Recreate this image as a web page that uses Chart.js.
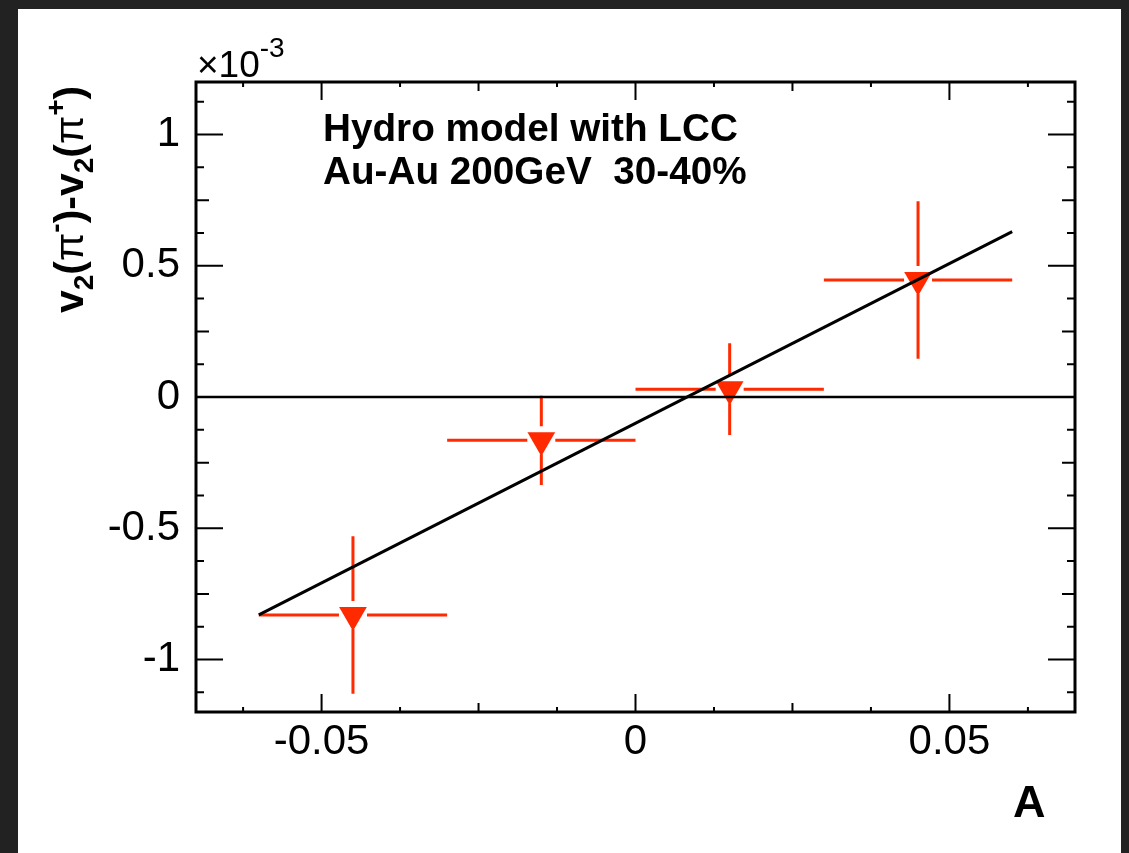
<!DOCTYPE html>
<html>
<head>
<meta charset="utf-8">
<script src="https://cdn.jsdelivr.net/npm/chart.js@4"></script>
<style>
  html, body { margin: 0; padding: 0; background: #222; width: 1129px; height: 853px; overflow: hidden; }
  #sheet { position: absolute; left: 18px; top: 9px; width: 1103px; height: 844px; background: #fff; }
  canvas { display: block; }
</style>
</head>
<body>
<div id="sheet"><canvas id="chart" width="1103" height="844"></canvas></div>
<script>
// ── Data (v2 difference in units of 1e-3) ──
const xTicks = [-0.05, 0, 0.05];
const yTicks = [-1, -0.5, 0, 0.5, 1];
const ptA    = [-0.045, -0.015, 0.015, 0.045];
const ptV    = [-0.83, -0.165, 0.03, 0.446];
const ptAErr = [0.015, 0.015, 0.015, 0.015];
const ptVErr = [0.30, 0.17, 0.175, 0.30];
const fitA   = [-0.06, 0.06];
const fitV   = [-0.83, 0.63];
const zeroA  = [-0.07, 0.07];
const zeroV  = [0, 0];

const RED = '#ff2a00';
const FONT = '"Liberation Sans", Arial, Helvetica, sans-serif';

// ── Inner tick marks + frame (ROOT style) ──
function innerTicks(ctx, scale, step, lenFn, horizontal, area) {
  const i0 = Math.ceil(scale.min / step - 1e-6), i1 = Math.floor(scale.max / step + 1e-6);
  for (let i = i0; i <= i1; i++) {
    const v = i * step;
    const p = scale.getPixelForValue(v);
    const len = lenFn(i);
    ctx.beginPath();
    if (horizontal) {
      ctx.moveTo(p, area.bottom); ctx.lineTo(p, area.bottom - len);
      ctx.moveTo(p, area.top); ctx.lineTo(p, area.top + len);
    } else {
      ctx.moveTo(area.left, p); ctx.lineTo(area.left + len, p);
      ctx.moveTo(area.right, p); ctx.lineTo(area.right - len, p);
    }
    ctx.stroke();
  }
}

const framePlugin = {
  id: 'frame',
  afterDraw(chart) {
    const { ctx, chartArea: a, scales } = chart;
    ctx.save();
    ctx.strokeStyle = '#000';
    ctx.lineWidth = 2;
    innerTicks(ctx, scales.x, 0.0125, i => i % 4 === 0 ? 18 : (i % 2 === 0 ? 9 : 5), true, a);
    innerTicks(ctx, scales.y, 0.125, i => i % 4 === 0 ? 27 : (i % 2 === 0 ? 13 : 8), false, a);
    ctx.lineWidth = 3;
    ctx.strokeRect(a.left, a.top, a.right - a.left, a.bottom - a.top);
    ctx.restore();
  }
};

// ── Error bars with a gap around the marker ──
const errorBarPlugin = {
  id: 'errbars',
  beforeDatasetsDraw(chart) {
    const { ctx, scales: { x, y } } = chart;
    const gap = 14;
    ctx.save();
    ctx.strokeStyle = RED;
    ctx.lineWidth = 3;
    ptA.forEach((a, i) => {
      const px = x.getPixelForValue(a), py = y.getPixelForValue(ptV[i]);
      const xl = x.getPixelForValue(a - ptAErr[i]), xr = x.getPixelForValue(a + ptAErr[i]);
      const yt = y.getPixelForValue(ptV[i] + ptVErr[i]), yb = y.getPixelForValue(ptV[i] - ptVErr[i]);
      ctx.beginPath();
      ctx.moveTo(xl, py); ctx.lineTo(px - gap, py);
      ctx.moveTo(px + gap, py); ctx.lineTo(xr, py);
      ctx.moveTo(px, yt); ctx.lineTo(px, py - gap);
      ctx.moveTo(px, py + gap); ctx.lineTo(px, yb);
      ctx.stroke();
    });
    ctx.restore();
  }
};

// ── Texts: axis titles, exponent, labels ──
function drawRuns(ctx, runs) {
  let u = 0;
  runs.forEach(r => {
    ctx.font = r.font;
    ctx.fillText(r.t, u, r.dy || 0);
    u += ctx.measureText(r.t).width;
  });
}

const textPlugin = {
  id: 'texts',
  afterDraw(chart) {
    const { ctx } = chart;
    ctx.save();
    ctx.fillStyle = '#000';
    ctx.textBaseline = 'alphabetic';
    ctx.textAlign = 'left';

    // exponent above the y axis
    ctx.font = '37px ' + FONT;
    ctx.fillText('\u00d710', 179, 68);
    const w = ctx.measureText('\u00d710').width;
    ctx.font = '28px ' + FONT;
    ctx.fillText('-3', 179 + w, 48);

    // caption
    ctx.font = 'bold 38.7px ' + FONT;
    ctx.fillText('Hydro model with LCC', 305, 132);
    ctx.fillText('Au-Au 200GeV  30-40%', 305, 175);

    // x title
    ctx.font = 'bold 45px ' + FONT;
    ctx.fillText('A', 995, 808);

    // y title (rotated)
    const B = 'bold 41px ' + FONT, S = 'bold 28px ' + FONT, P = '41px ' + FONT;
    ctx.translate(65, 304);
    ctx.rotate(-Math.PI / 2);
    drawRuns(ctx, [
      { t: 'v', font: B }, { t: '2', font: S, dy: 10 }, { t: '(', font: B }, { t: '\u03c0', font: P },
      { t: '-', font: S, dy: -18 }, { t: ')', font: B }, { t: '-', font: B },
      { t: 'v', font: B }, { t: '2', font: S, dy: 10 }, { t: '(', font: B }, { t: '\u03c0', font: P },
      { t: '+', font: S, dy: -18 }, { t: ')', font: B }
    ]);
    ctx.restore();
  }
};

const fmt = v => (v === 0 ? '0' : String(v));

new Chart(document.getElementById('chart'), {
  type: 'scatter',
  data: {
    datasets: [
      {
        data: ptA.map((a, i) => ({ x: a, y: ptV[i] })),
        pointStyle: 'triangle', rotation: 180, radius: 16,
        backgroundColor: RED, borderColor: RED, borderWidth: 0,
        order: 3
      },
      {
        data: zeroA.map((a, i) => ({ x: a, y: zeroV[i] })),
        showLine: true, borderColor: '#000', borderWidth: 2.5, pointRadius: 0,
        order: 2
      },
      {
        data: fitA.map((a, i) => ({ x: a, y: fitV[i] })),
        showLine: true, borderColor: '#000', borderWidth: 3, pointRadius: 0,
        order: 1
      }
    ]
  },
  options: {
    responsive: false,
    animation: false,
    layout: { padding: { top: 73, right: 46, bottom: 0, left: 0 } },
    plugins: { legend: { display: false }, tooltip: { enabled: false } },
    scales: {
      x: {
        type: 'linear', min: -0.07, max: 0.07,
        grid: { display: false, drawTicks: false },
        border: { display: false },
        afterBuildTicks: s => { s.ticks = xTicks.map(v => ({ value: v })); },
        afterFit: s => { s.height = 141; },
        ticks: { color: '#000', font: { family: FONT, size: 42 }, padding: 5, autoSkip: false, maxRotation: 0, callback: fmt }
      },
      y: {
        type: 'linear', min: -1.2, max: 1.2,
        grid: { display: false, drawTicks: false },
        border: { display: false },
        afterBuildTicks: s => { s.ticks = yTicks.map(v => ({ value: v })); },
        afterFit: s => { s.width = 178; },
        ticks: { color: '#000', font: { family: FONT, size: 42 }, padding: 16, autoSkip: false, callback: fmt }
      }
    }
  },
  plugins: [errorBarPlugin, framePlugin, textPlugin]
});
</script>
</body>
</html>
